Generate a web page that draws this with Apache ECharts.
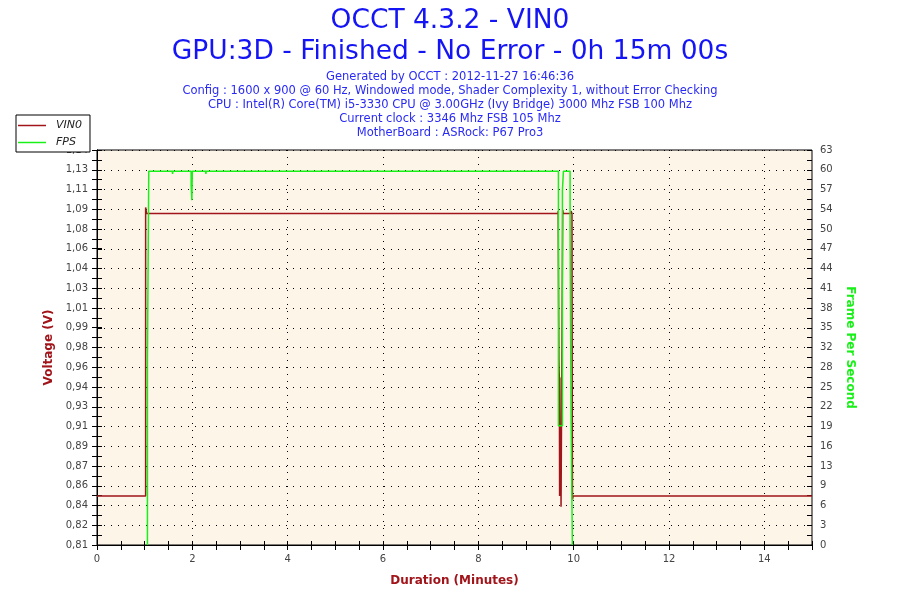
<!DOCTYPE html>
<html>
<head>
<meta charset="utf-8">
<script src="https://cdn.jsdelivr.net/npm/echarts@6/dist/echarts.min.js"></script>
<style>
html,body{margin:0;padding:0;background:#fff;}
#chart{width:900px;height:600px;}
</style>
</head>
<body>
<div id="chart"></div>
<script>
// ---- Data ----
const titleMain = "OCCT 4.3.2 - VIN0";
const titleSub = "GPU:3D - Finished - No Error - 0h 15m 00s";
const infoLines = [
  "Generated by OCCT : 2012-11-27 16:46:36",
  "Config : 1600 x 900 @ 60 Hz, Windowed mode, Shader Complexity 1, without Error Checking",
  "CPU : Intel(R) Core(TM) i5-3330 CPU @ 3.00GHz (Ivy Bridge) 3000 Mhz FSB 100 Mhz",
  "Current clock : 3346 Mhz FSB 105 Mhz",
  "MotherBoard : ASRock: P67 Pro3"
];

// Voltage axis ticks (values) and the labels OCCT printed for them
const voltTicks = [0.81,0.8265,0.843,0.8595,0.876,0.8925,0.909,0.9255,0.942,0.9585,0.975,
                   0.9915,1.008,1.0245,1.041,1.0575,1.074,1.0905,1.107,1.1235,1.14];
const voltMinorTicks = [0.81825,0.83475,0.85125,0.86775,0.88425,0.90075,0.91725,0.93375,0.95025,
                   0.96675,0.98325,0.99975,1.01625,1.03275,1.04925,1.06575,1.08225,1.09875,1.11525,1.13175];
const voltLabels = ["0,81","0,82","0,84","0,86","0,87","0,89","0,91","0,93","0,94","0,96","0,98",
                    "0,99","1,01","1,03","1,04","1,06","1,08","1,09","1,11","1,13","1,14"];
const fpsLabels = ["0","3","6","9","13","16","19","22","25","28","32","35","38","41","44","47","50","54","57","60","63"];
const xTicks = [0,2,4,6,8,10,12,14];
const xMinorTicks = [0,0.5,1,1.5,2,2.5,3,3.5,4,4.5,5,5.5,6,6.5,7,7.5,8,8.5,9,9.5,10,10.5,11,11.5,12,12.5,13,13.5,14,14.5,15];

// VIN0 (minutes, volts)
const vinTime  = [0, 1.02, 1.02, 1.04, 1.04, 9.67, 9.675, 9.685, 9.69, 9.695, 9.70, 9.705, 9.71, 9.715, 9.72, 9.725, 9.73, 9.735, 9.745, 9.77, 9.78, 9.94, 9.945, 9.955, 9.965, 9.97, 9.975, 9.99, 15];
const vinValue = [0.851, 0.851, 1.092, 1.092, 1.087, 1.087, 1.089, 1.089, 0.965, 0.955, 0.949, 0.851, 0.95, 0.852, 0.909, 0.851, 0.91, 0.842, 0.842, 1.09, 1.087, 1.087, 1.089, 1.089, 1.087, 0.934, 0.848, 0.851, 0.851];

// FPS (minutes, frames per second)
const fpsTime  = [1.058, 1.058, 1.086, 1.086, 1.58, 1.585, 1.59, 1.975, 1.975, 1.985, 1.99, 1.995, 2.0, 2.28, 2.285, 2.29, 9.68, 9.68, 9.764, 9.764, 9.785, 9.785, 9.925, 9.925, 9.946, 9.946, 9.973, 9.973];
const fpsValue = [0, 29.5, 29.5, 59.6, 59.6, 59.2, 59.6, 59.6, 57.4, 57.4, 55, 57.4, 59.6, 59.6, 59.2, 59.6, 59.6, 19, 19, 56.6, 56.6, 59.6, 59.6, 49.8, 49.8, 20, 20, 0];

const vinData = vinTime.map((t, i) => [t, vinValue[i]]);
const fpsData = fpsTime.map((t, i) => [t, fpsValue[i]]);

const RED = '#a0141a';
const GREEN = '#18f018';
const BLUE = '#1414f5';
const FONT = 'DejaVu Sans';

const chart = echarts.init(document.getElementById('chart'), null, {renderer: 'canvas'});

function voltFmt(v) {
  let best = 0, bd = 1e9;
  for (let i = 0; i < voltTicks.length; i++) {
    const d = Math.abs(voltTicks[i] - v);
    if (d < bd) { bd = d; best = i; }
  }
  return voltLabels[best];
}

const titles = [
  {text: titleMain, left: 'center', top: 8, padding: 0,
   textStyle: {color: BLUE, fontSize: 26.5, fontWeight: 'normal', fontFamily: FONT}},
  {text: titleSub, left: 'center', top: 39, padding: 0,
   textStyle: {color: BLUE, fontSize: 26.5, fontWeight: 'normal', fontFamily: FONT}}
];
infoLines.forEach((line, i) => {
  titles.push({text: line, left: 'center', top: 71 + i * 14, padding: 0,
    textStyle: {color: '#2a2af5', fontSize: 11.5, fontWeight: 'normal', fontFamily: FONT}});
});

const option = {
  backgroundColor: '#ffffff',
  animation: false,
  title: titles,
  legend: {
    orient: 'vertical', left: 16, top: 115,
    backgroundColor: '#ffffff', borderColor: '#000000', borderWidth: 1,
    padding: [5, 8, 4, 2], itemGap: 6, itemWidth: 28, itemHeight: 1.5,
    textStyle: {fontStyle: 'italic', fontSize: 11, color: '#222', fontFamily: FONT, padding: [0,0,0,5]},
    data: [{name: 'VIN0', icon: 'rect'}, {name: 'FPS', icon: 'rect'}]
  },
  grid: {left: 97, right: 88, top: 150, bottom: 55, show: true,
         backgroundColor: '#fdf6e8', borderColor: '#000', borderWidth: 1},
  xAxis: [
    {type: 'value', min: 0, max: 15, interval: 2, position: 'bottom',
     name: 'Duration (Minutes)', nameLocation: 'middle', nameGap: 30,
     nameTextStyle: {color: RED, fontWeight: 'bold', fontSize: 12, fontFamily: FONT},
     axisLine: {lineStyle: {color: '#000', width: 1}},
     axisTick: {show: false, customValues: xTicks},
     axisLabel: {color: '#444', fontSize: 10, fontFamily: FONT, margin: 9,
                 customValues: xTicks},
     splitLine: {show: true, lineStyle: {color: '#000', width: 1, type: [1, 6]}}
    },
    {type: 'value', min: 0, max: 15, position: 'bottom',
     axisLine: {show: false}, axisLabel: {show: false}, splitLine: {show: false},
     axisTick: {show: true, inside: false, length: 5, lineStyle: {color: '#000'}, customValues: xMinorTicks}
    },
    {type: 'value', min: 0, max: 15, position: 'bottom',
     axisLine: {show: false}, axisLabel: {show: false}, splitLine: {show: false},
     axisTick: {show: true, inside: true, length: 4, lineStyle: {color: '#000'}, customValues: xMinorTicks}
    }
  ],
  yAxis: [
    {type: 'value', min: 0.81, max: 1.14, position: 'left',
     name: 'Voltage (V)', nameLocation: 'middle', nameGap: 42, nameRotate: 90,
     nameTextStyle: {color: RED, fontWeight: 'bold', fontSize: 12, fontFamily: FONT},
     axisLine: {show: true, lineStyle: {color: '#000'}},
     axisTick: {show: true, length: 5, lineStyle: {color: '#000'},
                customValues: voltTicks.concat(voltMinorTicks)},
     axisLabel: {color: '#444', fontSize: 10, fontFamily: FONT, margin: 9,
                 customValues: voltTicks, formatter: voltFmt},
     splitLine: {show: false}
    },
    {type: 'value', min: 0, max: 63, interval: 3.15, position: 'right',
     name: 'Frame Per Second', nameLocation: 'middle', nameGap: 32, nameRotate: -90,
     nameTextStyle: {color: GREEN, fontWeight: 'bold', fontSize: 12, fontFamily: FONT},
     axisLine: {show: true, lineStyle: {color: '#000'}},
     axisTick: {show: true, length: 5, lineStyle: {color: '#000'}},
     minorTick: {show: true, splitNumber: 2, length: 5, lineStyle: {color: '#000'}},
     axisLabel: {color: '#444', fontSize: 10, fontFamily: FONT, margin: 8,
                 formatter: (v, i) => fpsLabels[Math.round(v / 3.15)]},
     splitLine: {show: true, lineStyle: {color: '#000', width: 1, type: [1, 6]}}
    },
    {type: 'value', min: 0.81, max: 1.14, position: 'left',
     axisLine: {show: false}, axisLabel: {show: false}, splitLine: {show: false},
     axisTick: {show: true, inside: true, length: 5, lineStyle: {color: '#000'},
                customValues: voltTicks.concat(voltMinorTicks)}
    },
    {type: 'value', min: 0, max: 63, interval: 3.15, position: 'right',
     axisLine: {show: false}, axisLabel: {show: false}, splitLine: {show: false},
     axisTick: {show: true, inside: true, length: 5, lineStyle: {color: '#000'}},
     minorTick: {show: true, splitNumber: 2, length: 5, lineStyle: {color: '#000'}}
    }
  ],
  series: [
    {name: 'VIN0', type: 'line', xAxisIndex: 0, yAxisIndex: 0, data: vinData,
     showSymbol: false, symbol: 'none', color: RED, lineStyle: {color: RED, width: 1.5}, z: 3},
    {name: 'FPS', type: 'line', xAxisIndex: 0, yAxisIndex: 1, data: fpsData,
     showSymbol: false, symbol: 'none', color: GREEN, lineStyle: {color: GREEN, width: 1.5}, z: 4}
  ]
};
chart.setOption(option);
</script>
</body>
</html>
